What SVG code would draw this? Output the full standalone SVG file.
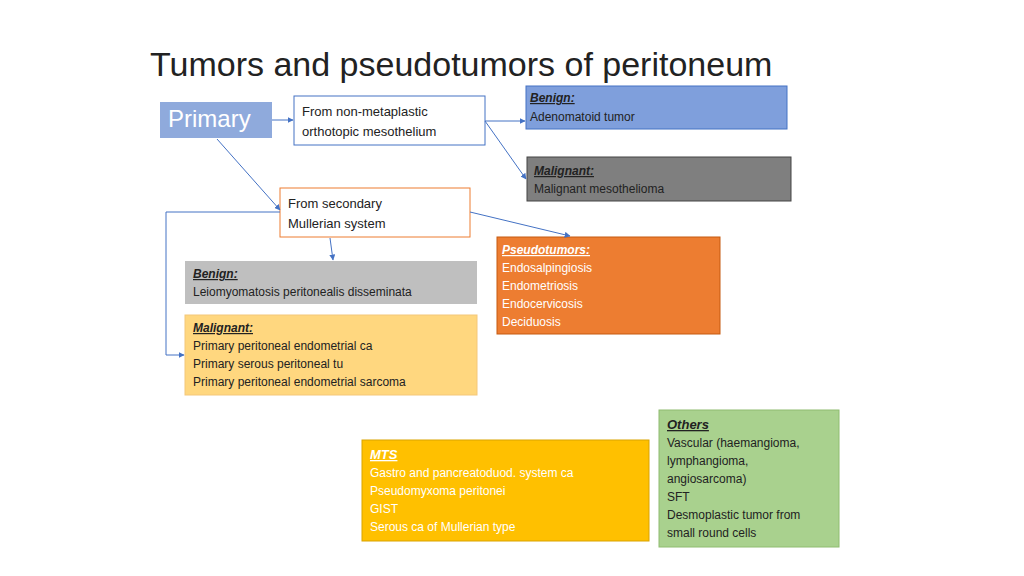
<svg xmlns="http://www.w3.org/2000/svg" width="1024" height="576" viewBox="0 0 1024 576">
<defs>
<marker id="a" viewBox="0 0 10 10" refX="9" refY="5" markerWidth="6" markerHeight="6" orient="auto"><path d="M0,0L10,5L0,10z" fill="#4472c4"/></marker>
<style>
text{font-family:"Liberation Sans",Arial,sans-serif;font-size:13px;fill:#222}
.h{font-weight:bold;font-style:italic;text-decoration:underline}
.w{fill:#fff}
.c line,.c path{stroke:#4472c4;stroke-width:1;fill:none;marker-end:url(#a)}
</style>
</defs>
<rect width="1024" height="576" fill="#fff"/>
<text x="150" y="76" style="font-size:34px" fill="#222">Tumors and pseudotumors of peritoneum</text>
<g id="primary"><rect x="160" y="102" width="112" height="36" fill="#8faadc"/><text x="168" y="127" class="w" style="font-size:24px">Primary</text></g>
<g id="nonmeta"><rect x="294" y="96" width="191" height="49" fill="#fff" stroke="#4472c4"/><text x="302" y="116">From non-metaplastic</text><text x="302" y="136">orthotopic mesothelium</text></g>
<g id="benign1"><rect x="526" y="86" width="261" height="43" fill="#7f9fdc" stroke="#4472c4"/><text x="530" y="102" class="h" style="font-size:12px">Benign:</text><text x="530" y="121" style="font-size:12px">Adenomatoid tumor</text></g>
<g id="malig1"><rect x="527" y="157" width="264" height="44" fill="#7f7f7f" stroke="#444"/><text x="534" y="175" class="h" style="font-size:12px">Malignant:</text><text x="534" y="193" style="font-size:12px">Malignant mesothelioma</text></g>
<g id="secondary"><rect x="280" y="188" width="190" height="49" fill="#fff" stroke="#ed7d31"/><text x="288" y="208">From secondary</text><text x="288" y="228">Mullerian system</text></g>
<g id="pseudo"><rect x="497" y="237" width="223" height="97" fill="#ed7d31" stroke="#c55a11"/><text x="502" y="254" class="h w" style="font-size:12px">Pseudotumors:</text><text x="502" y="272" class="w" style="font-size:12px">Endosalpingiosis</text><text x="502" y="290" class="w" style="font-size:12px">Endometriosis</text><text x="502" y="308" class="w" style="font-size:12px">Endocervicosis</text><text x="502" y="326" class="w" style="font-size:12px">Deciduosis</text></g>
<g id="benign2"><rect x="185" y="261" width="292" height="43" fill="#bfbfbf"/><text x="193" y="278" class="h" style="font-size:12px">Benign:</text><text x="193" y="296" style="font-size:12px">Leiomyomatosis peritonealis disseminata</text></g>
<g id="malig2"><rect x="185" y="315" width="292" height="80" fill="#ffd77f" stroke="#f4c77a"/><text x="193" y="332" class="h" style="font-size:12px">Malignant:</text><text x="193" y="350" style="font-size:12px">Primary peritoneal endometrial ca</text><text x="193" y="368" style="font-size:12px">Primary serous peritoneal tu</text><text x="193" y="386" style="font-size:12px">Primary peritoneal endometrial sarcoma</text></g>
<g id="others"><rect x="659" y="410" width="180" height="137" fill="#a9d18e" stroke="#8fbc70"/><text x="667" y="429" class="h" style="font-size:13px">Others</text><text x="667" y="447" style="font-size:12px">Vascular (haemangioma,</text><text x="667" y="465" style="font-size:12px">lymphangioma,</text><text x="667" y="483" style="font-size:12px">angiosarcoma)</text><text x="667" y="501" style="font-size:12px">SFT</text><text x="667" y="519" style="font-size:12px">Desmoplastic tumor from</text><text x="667" y="537" style="font-size:12px">small round cells</text></g>
<g id="mts"><rect x="362" y="440" width="287" height="101" fill="#ffc000" stroke="#d9a300"/><text x="370" y="459" class="h w" style="font-size:13px">MTS</text><text x="370" y="477" class="w" style="font-size:12px">Gastro and pancreatoduod. system ca</text><text x="370" y="495" class="w" style="font-size:12px">Pseudomyxoma peritonei</text><text x="370" y="513" class="w" style="font-size:12px">GIST</text><text x="370" y="531" class="w" style="font-size:12px">Serous ca of Mullerian type</text></g>
<g class="c" id="connectors">
<line x1="272" y1="120" x2="293" y2="120"/>
<line x1="485" y1="121" x2="525" y2="121"/>
<line x1="485" y1="121" x2="526" y2="179"/>
<line x1="217" y1="139" x2="280" y2="210"/>
<line x1="470" y1="212" x2="570" y2="236"/>
<line x1="330" y1="238" x2="333" y2="260"/>
<line x1="331" y1="238" x2="332" y2="260" style="display:none"/>
<path d="M280,212H166V355H184"/>
</g>
</svg>
